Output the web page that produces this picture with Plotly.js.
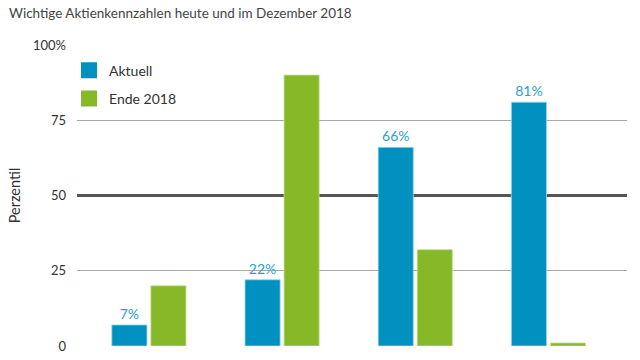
<!DOCTYPE html>
<html>
<head>
<meta charset="utf-8">
<script src="https://cdn.plot.ly/plotly-3.0.1.min.js"></script>
<style>html,body{margin:0;padding:0;background:#fff;}#chart{width:640px;height:360px;}</style>
</head>
<body>
<div id="chart"></div>
<script>
const categories = [0, 1, 2, 3];
const aktuell = [7, 22, 66, 81];
const ende2018 = [20, 90, 32, 1];
const seriesNames = ['Aktuell', 'Ende 2018'];
const tickVals = [0, 25, 50, 75, 100];
const tickText = ['0', '25', '50', '75', '100%'];
const gridVals = [0, 25, 75, 100];
const referenceLevel = 50;

const blue = '#0191c0';
const green = '#87b827';
const FONT = 'Lato, sans-serif';

const traces = [
  {
    type: 'bar', name: seriesNames[0], x: categories, y: aktuell, showlegend: false,
    marker: {color: blue, line: {color: '#9fd3e6', width: 0.8}},
    texttemplate: '%{y}%', textposition: 'outside',
    textfont: {family: FONT, size: 14, color: '#2a9fd0'},
    cliponaxis: false, hoverinfo: 'none'
  },
  {
    type: 'bar', name: seriesNames[1], x: categories, y: ende2018, showlegend: false,
    marker: {color: green, line: {color: '#c5e08f', width: 0.8}},
    hoverinfo: 'none'
  },
  // legend entries (larger square swatches)
  {type: 'scatter', mode: 'markers', name: seriesNames[0], x: [null], y: [null], yaxis: 'y2',
   legendgroup: 'a', marker: {symbol: 'square', size: 16, color: blue}},
  {type: 'scatter', mode: 'markers', name: seriesNames[1], x: [null], y: [null], yaxis: 'y2',
   legendgroup: 'b', marker: {symbol: 'square', size: 16, color: green}}
];

const layout = {
  width: 640, height: 360,
  margin: {l: 77, r: 13, t: 45, b: 14},
  paper_bgcolor: '#fff', plot_bgcolor: '#fff',
  font: {family: FONT, color: '#333'},
  title: {text: 'Wichtige Aktienkennzahlen heute und im Dezember 2018',
          x: 0.014, xanchor: 'left', y: 0.963, yanchor: 'middle',
          font: {family: FONT, size: 13.5, color: '#444'}},
  barmode: 'group', bargap: 0.414, bargroupgap: 0.1,
  xaxis: {range: [-0.54, 3.59], showticklabels: false, showgrid: false,
          zeroline: false, showline: false, fixedrange: true},
  yaxis: {range: [0, 100], tickvals: tickVals, ticktext: tickText,
          showgrid: false, zeroline: false, showline: false, ticks: '', ticklabelstandoff: 10,
          tickfont: {family: FONT, size: 13, color: '#333'},
          title: {text: 'Perzentil', standoff: 8,
                  font: {family: FONT, size: 14.5, color: '#333'}}},
  yaxis2: {overlaying: 'y', side: 'left', range: [-referenceLevel, 100 - referenceLevel],
           tickvals: gridVals.map(v => v - referenceLevel), showticklabels: false, ticks: '',
           showgrid: true, gridcolor: '#a8a8a8', gridwidth: 1.3,
           zeroline: true, zerolinecolor: '#555', zerolinewidth: 3, showline: false},
  legend: {x: -0.0145, y: 0.968, xanchor: 'left', yanchor: 'top',
           bgcolor: 'rgba(0,0,0,0)', traceorder: 'grouped', tracegroupgap: 7,
           font: {family: FONT, size: 14, color: '#333'}},
  showlegend: true
};

Plotly.newPlot('chart', traces, layout, {displayModeBar: false, staticPlot: true});
</script>
</body>
</html>
